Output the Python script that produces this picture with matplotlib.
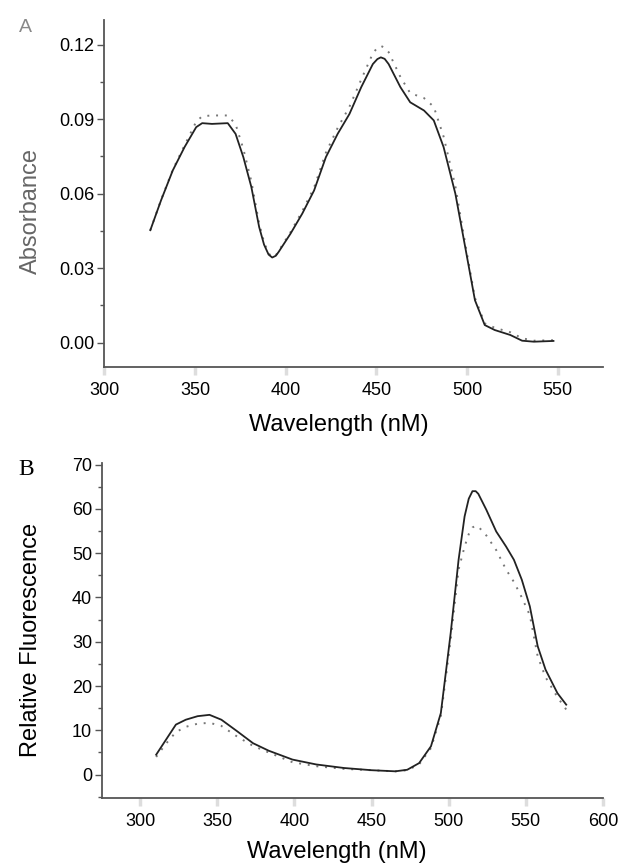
import matplotlib
matplotlib.use("Agg")
import matplotlib.pyplot as plt
import numpy as np
from matplotlib.ticker import MultipleLocator

plt.rcParams['font.family'] = ['Liberation Sans', 'DejaVu Sans']

# Panel A - absorbance
abs_wl = [325.3, 331.2, 337.7, 344.2, 350.6, 353.9, 359.3, 368.0, 372.3, 376.6, 381.0,
          385.3, 388.0, 390.5, 392.5, 394.5, 396.1, 402.6, 409.1, 415.6, 422.1, 428.6, 435.1,
          441.6, 448.0, 450.5, 452.4, 454.5, 456.7, 463.2, 468.6, 476.2, 481.6, 487.0,
          493.5, 498.9, 504.3, 509.7, 515.2, 523.8, 530.3, 536.8, 547.6]
abs_solid = [0.0453, 0.0573, 0.0694, 0.0788, 0.0868, 0.0884, 0.0881, 0.0884, 0.0841, 0.0747,
             0.0627, 0.0466, 0.0395, 0.0355, 0.0343, 0.0350, 0.0366, 0.0439, 0.0520, 0.0613,
             0.0747, 0.0841, 0.0921, 0.1029, 0.1122, 0.1142, 0.1149, 0.1143, 0.1122, 0.1029,
             0.0968, 0.0935, 0.0895, 0.0788, 0.0600, 0.0386, 0.0171, 0.0071, 0.0051, 0.0031,
             0.0008, 0.0004, 0.0007]
abs_dotted = [0.0453, 0.0575, 0.0697, 0.0795, 0.0890, 0.0912, 0.0915, 0.0915, 0.0880, 0.0780,
              0.0650, 0.0480, 0.0405, 0.0360, 0.0345, 0.0352, 0.0370, 0.0445, 0.0530, 0.0625,
              0.0765, 0.0865, 0.0950, 0.1060, 0.1165, 0.1188, 0.1195, 0.1188, 0.1170, 0.1070,
              0.1005, 0.0985, 0.0950, 0.0830, 0.0630, 0.0400, 0.0180, 0.0078, 0.0060, 0.0042,
              0.0018, 0.0008, 0.0010]

# Panel B - fluorescence
fl_wl = [310.3, 316.7, 323.1, 329.5, 337.2, 344.9, 352.6, 362.8, 373.1, 383.3, 398.7,
         414.1, 432.1, 450.0, 465.4, 473.1, 480.8, 488.5, 494.9, 501.3, 506.4, 510.3,
         513.0, 515.4, 517.5, 519.2, 524.4, 530.8, 537.2, 542.3, 547.4, 552.6, 557.7,
         562.8, 570.5, 576.2]
fl_solid = [4.5, 7.9, 11.3, 12.4, 13.2, 13.5, 12.4, 9.8, 7.1, 5.4, 3.4,
            2.3, 1.5, 1.0, 0.75, 1.1, 2.6, 6.4, 13.9, 32.0, 48.5, 58.3,
            62.3, 64.0, 64.0, 63.4, 59.8, 54.9, 51.5, 48.5, 44.0, 38.0, 29.0,
            23.7, 18.4, 15.8]
fl_dotted = [4.0, 7.0, 9.6, 10.8, 11.5, 11.7, 11.0, 8.6, 6.5, 5.0, 2.8,
             1.9, 1.3, 1.0, 0.75, 1.0, 2.3, 6.0, 13.2, 30.5, 46.3, 51.5,
             54.3, 55.8, 56.2, 56.0, 54.0, 50.7, 46.3, 43.5, 40.0, 36.0, 26.7,
             22.0, 17.5, 14.7]

axis_col = '#555555'
dot_style = (0, (1, 3.5))


def style_axes(ax):
    for s in ['top', 'right']:
        ax.spines[s].set_visible(False)
    for s in ['left', 'bottom']:
        ax.spines[s].set_color(axis_col)
        ax.spines[s].set_linewidth(1.3)
    ax.tick_params(axis='y', which='major', direction='out', length=5, width=1,
                   color=axis_col, labelsize=13, pad=2)
    ax.tick_params(axis='y', which='minor', direction='out', length=3, width=1, color=axis_col)
    ax.tick_params(axis='x', which='major', direction='out', length=6, width=2.5,
                   color='#dddddd', labelsize=13, pad=5)


fig = plt.figure(figsize=(6.18, 8.63), dpi=100)

# A
ax1 = fig.add_axes([0.169, 0.575, 0.807, 0.402])
ax1.plot(abs_wl, abs_dotted, color='#777777', lw=1.4, linestyle=dot_style)
ax1.plot(abs_wl, abs_solid, color='#222222', lw=1.3)
ax1.set_xlim(300, 575)
ax1.set_ylim(-0.0097, 0.13)
ax1.set_xticks([300, 350, 400, 450, 500, 550])
ax1.set_yticks([0.0, 0.03, 0.06, 0.09, 0.12])
ax1.yaxis.set_minor_locator(MultipleLocator(0.015))
ax1.set_yticklabels(['0.00', '0.03', '0.06', '0.09', '0.12'])
style_axes(ax1)
ax1.set_xlabel('Wavelength (nM)', fontsize=17)
ax1.xaxis.set_label_coords(0.47, -0.135)
ax1.set_ylabel('Absorbance', fontsize=17, color='#666666')
ax1.yaxis.set_label_coords(-0.125, 0.45)
fig.text(0.03, 0.978, 'A', fontsize=14, color='#888888', ha='left', va='top')

# B
ax2 = fig.add_axes([0.1646, 0.0757, 0.811, 0.388])
ax2.plot(fl_wl, fl_dotted, color='#777777', lw=1.4, linestyle=dot_style)
ax2.plot(fl_wl, fl_solid, color='#222222', lw=1.3)
ax2.set_xlim(275, 600)
ax2.set_ylim(-5.2, 70.4)
ax2.set_xticks([300, 350, 400, 450, 500, 550, 600])
ax2.set_yticks([0, 10, 20, 30, 40, 50, 60, 70])
ax2.yaxis.set_minor_locator(MultipleLocator(5))
style_axes(ax2)
ax2.set_xlabel('Wavelength (nM)', fontsize=17)
ax2.xaxis.set_label_coords(0.47, -0.13)
ax2.set_ylabel('Relative Fluorescence', fontsize=17)
ax2.yaxis.set_label_coords(-0.12, 0.47)
fig.text(0.03, 0.468, 'B', fontsize=17, family=['Liberation Serif', 'DejaVu Serif'],
         ha='left', va='top')

fig.savefig('out.png', dpi=100)
